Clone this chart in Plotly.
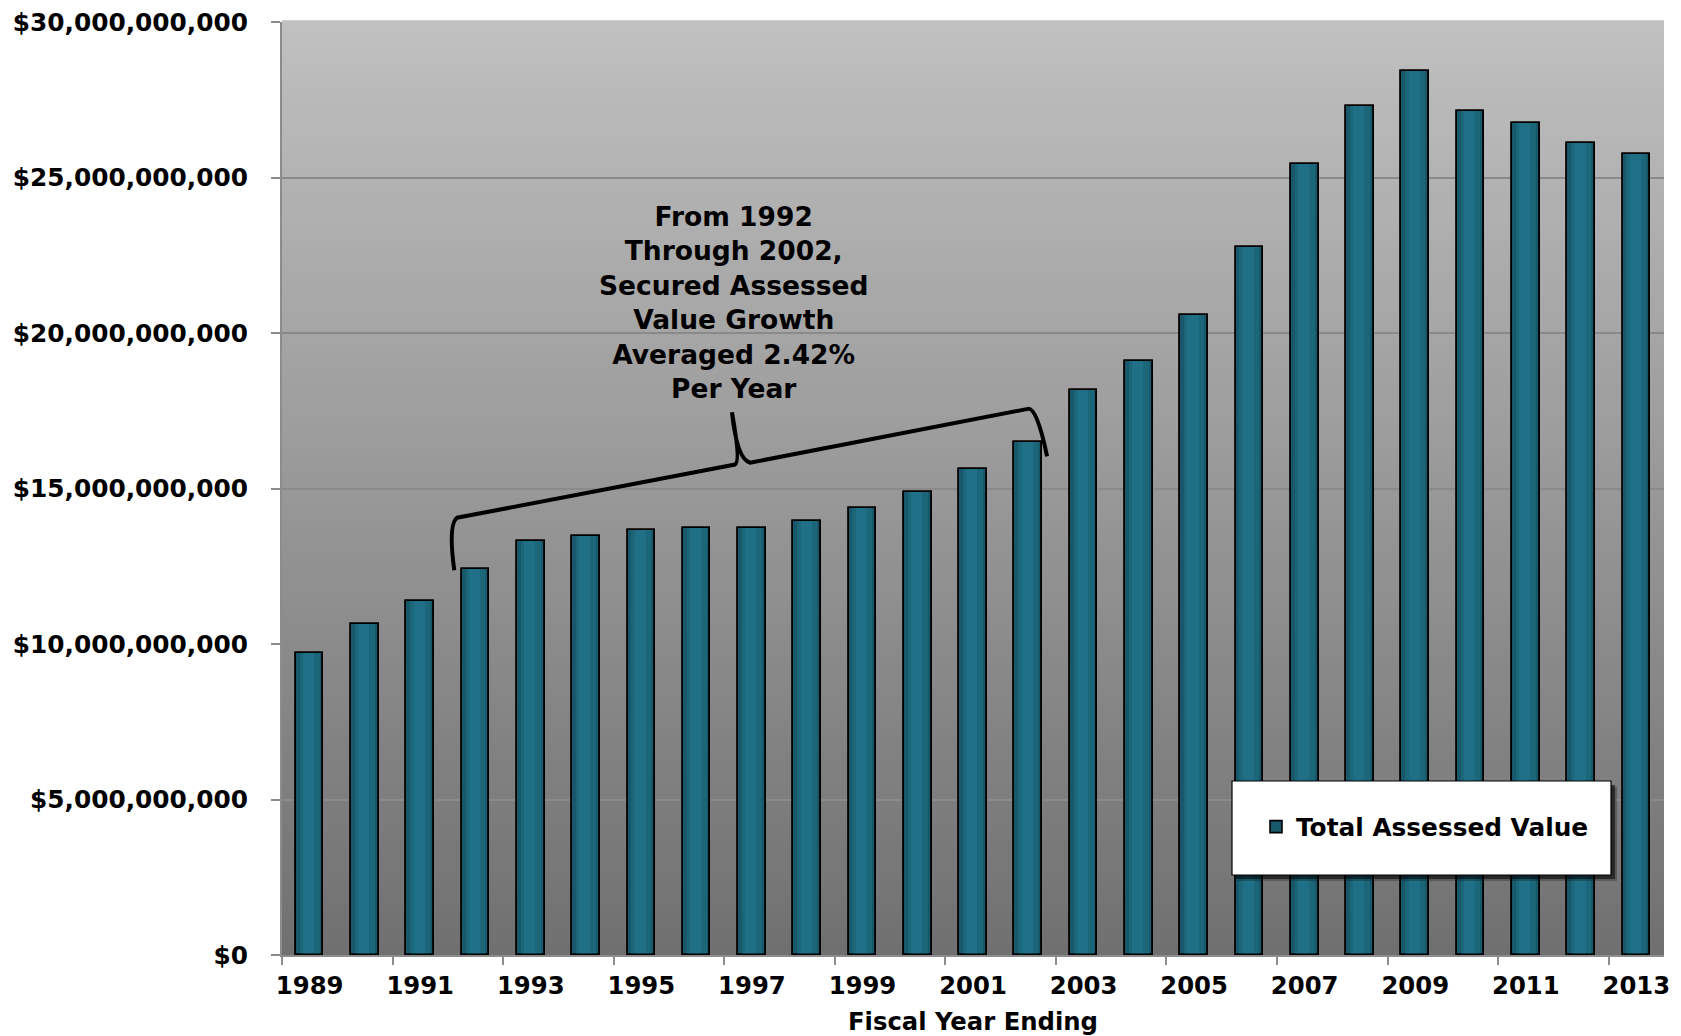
import plotly.graph_objects as go

# ---------------- data ----------------
years = list(range(1989, 2014))
assessed_value_billions = [9.72, 10.65, 11.37, 12.42, 13.31, 13.46, 13.67, 13.72, 13.72, 13.95,
                           14.36, 14.88, 15.63, 16.49, 18.17, 19.09, 20.57, 22.77, 25.44, 27.29,
                           28.44, 27.14, 26.76, 26.12, 25.77]
series_name = "Total Assessed Value"
x_tick_years = list(range(1989, 2014, 2))
x_tick_labels = [str(y) for y in x_tick_years]
y_tick_values = [0, 5e9, 10e9, 15e9, 20e9, 25e9, 30e9]
y_tick_labels = ["$0", "$5,000,000,000", "$10,000,000,000", "$15,000,000,000",
                 "$20,000,000,000", "$25,000,000,000", "$30,000,000,000"]
x_title = "Fiscal Year Ending"
note_text = ("From 1992<br>Through 2002,<br>Secured Assessed<br>Value Growth<br>"
             "Averaged 2.42%<br>Per Year")

values = [v * 1e9 for v in assessed_value_billions]

FONT = "DejaVu Sans"
W, H = 1681, 1036

fig = go.Figure()

# bars: outlined base + lighter inner strips (cylinder look) + outline redraw
fig.add_trace(go.Bar(x=years, y=values, name=series_name, width=0.5,
                     marker=dict(color="#18586b", line=dict(color="#000000", width=1.6)),
                     hoverinfo="x+y"))
fig.add_trace(go.Bar(x=years, y=values, width=0.36, showlegend=False, hoverinfo="skip",
                     marker=dict(color="#1c667a", line=dict(width=0))))
fig.add_trace(go.Bar(x=years, y=values, width=0.2, offset=-0.12, showlegend=False, hoverinfo="skip",
                     marker=dict(color="#1f7086", line=dict(width=0))))
fig.add_trace(go.Bar(x=years, y=values, width=0.5, showlegend=False, hoverinfo="skip",
                     marker=dict(color="rgba(0,0,0,0)", line=dict(color="#000000", width=1.6))))

shapes = []
# vertical gradient plot background
n = 90
top = (192, 192, 192)
bot = (112, 112, 112)
for i in range(n):
    t = (i + 0.5) / n
    c = tuple(round(bot[k] + (top[k] - bot[k]) * t) for k in range(3))
    shapes.append(dict(type="rect", xref="paper", yref="paper", x0=0, x1=1,
                       y0=i / n, y1=(i + 1) / n + 0.002, layer="below",
                       fillcolor="rgb(%d,%d,%d)" % c, line=dict(width=0)))

# curly brace spanning 1992-2002  (x in years, y in billions)
brace = [("M", 1991.617, 12.37), ("Q", 1991.503, 13.84), (None, 1991.666, 14.06),
         ("L", 1996.695, 15.77), ("Q", 1996.80, 15.87), (None, 1996.64, 17.45),
         ("Q", 1996.73, 15.93), (None, 1996.97, 15.83), ("L", 2001.995, 17.56),
         ("Q", 2002.16, 17.61), (None, 2002.34, 16.03)]
path = ""
for cmd, xx, yy in brace:
    path += (cmd if cmd else " ") + "%.3f,%.1f " % (xx, yy * 1e9)
shapes.append(dict(type="path", xref="x", yref="y", path=path.strip(),
                   line=dict(color="#000000", width=4), layer="above"))

# legend box with drop shadow (paper coords of plot area)
def px_to_paper_x(px):
    return (px - 282) / (1664 - 282)

def px_to_paper_y(py):
    return (955 - py) / (955 - 22)

bx0, bx1, by0, by1 = 1232, 1611, 781, 875
for off, col in [(6, "rgba(0,0,0,0.25)"), (4, "rgba(0,0,0,0.55)")]:
    shapes.append(dict(type="rect", xref="paper", yref="paper",
                       x0=px_to_paper_x(bx0 + off), x1=px_to_paper_x(bx1 + off),
                       y0=px_to_paper_y(by1 + off), y1=px_to_paper_y(by0 + off),
                       fillcolor=col, line=dict(width=0), layer="above"))
shapes.append(dict(type="rect", xref="paper", yref="paper",
                   x0=px_to_paper_x(bx0), x1=px_to_paper_x(bx1),
                   y0=px_to_paper_y(by1), y1=px_to_paper_y(by0),
                   fillcolor="#ffffff", line=dict(color="#000000", width=1.2), layer="above"))

fig.update_layout(
    width=W, height=H, autosize=False,
    margin=dict(l=282, r=17, t=22, b=81, pad=0, autoexpand=False),
    paper_bgcolor="#ffffff", plot_bgcolor="#a0a0a0",
    barmode="overlay", bargap=0,
    font=dict(family=FONT, size=24, color="#000000", weight="bold"),
    shapes=shapes,
    showlegend=True,
    legend=dict(x=px_to_paper_x(1256), y=px_to_paper_y(827), xanchor="left", yanchor="middle",
                bgcolor="rgba(0,0,0,0)", borderwidth=0, itemwidth=30,
                font=dict(family=FONT, size=24.8, color="#000000", weight="bold")),
    annotations=[dict(x=1996.67, y=20.97e9, xref="x", yref="y", text=note_text, showarrow=False,
                      xanchor="center", yanchor="middle", align="center",
                      font=dict(family=FONT, size=26.5, color="#000000", weight="bold"))],
)

fig.update_xaxes(
    range=[1988.5, 2013.5], tickmode="array", tickvals=x_tick_years, ticktext=x_tick_labels,
    ticks="outside", ticklen=8, tickcolor="rgba(0,0,0,0)", showgrid=False,
    showline=True, linecolor="#8c8c8c", linewidth=2, zeroline=False, automargin=False,
    tickfont=dict(family=FONT, size=24.3, color="#000000", weight="bold"),
    minor=dict(tickmode="array", tickvals=[y - 0.5 for y in x_tick_years],
               ticks="outside", ticklen=8, tickcolor="#8c8c8c", tickwidth=2, showgrid=False),
    title=dict(text=x_title, standoff=15,
               font=dict(family=FONT, size=24.3, color="#000000", weight="bold")),
    fixedrange=True,
)
fig.update_yaxes(
    range=[0, 30e9], tickmode="array", tickvals=y_tick_values, ticktext=y_tick_labels,
    ticks="outside", ticklen=9, tickcolor="#8c8c8c", tickwidth=2,
    showgrid=True, gridcolor="#8a8a8a", gridwidth=2,
    showline=True, linecolor="#8c8c8c", linewidth=2, zeroline=False, automargin=False,
    tickfont=dict(family=FONT, size=24.8, color="#000000", weight="bold"),
    ticklabelstandoff=18,
    fixedrange=True,
)

fig.write_html("out.html")
